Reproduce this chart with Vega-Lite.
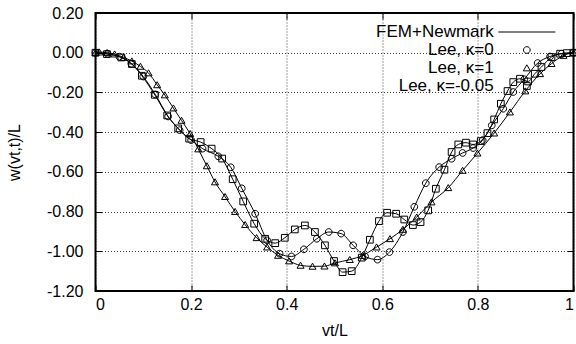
{
  "$schema": "https://vega.github.io/schema/vega-lite/v6.json",
  "width": 478,
  "height": 278,
  "autosize": {"type": "none"},
  "padding": {"left": 95.5, "top": 13, "right": 2.5, "bottom": 53},
  "background": "white",
  "datasets": {
    "lee": [
      {"s": "Lee, κ=0", "x": 0.0, "y": 0.0},
      {"s": "Lee, κ=0", "x": 0.025, "y": -0.005},
      {"s": "Lee, κ=0", "x": 0.05, "y": -0.02},
      {"s": "Lee, κ=0", "x": 0.075, "y": -0.055},
      {"s": "Lee, κ=0", "x": 0.1, "y": -0.12},
      {"s": "Lee, κ=0", "x": 0.125, "y": -0.21},
      {"s": "Lee, κ=0", "x": 0.152, "y": -0.321},
      {"s": "Lee, κ=0", "x": 0.176, "y": -0.39},
      {"s": "Lee, κ=0", "x": 0.2, "y": -0.44},
      {"s": "Lee, κ=0", "x": 0.224, "y": -0.483},
      {"s": "Lee, κ=0", "x": 0.257, "y": -0.522},
      {"s": "Lee, κ=0", "x": 0.283, "y": -0.577},
      {"s": "Lee, κ=0", "x": 0.306, "y": -0.683},
      {"s": "Lee, κ=0", "x": 0.334, "y": -0.811},
      {"s": "Lee, κ=0", "x": 0.359, "y": -0.945},
      {"s": "Lee, κ=0", "x": 0.385, "y": -1.012},
      {"s": "Lee, κ=0", "x": 0.41, "y": -1.026},
      {"s": "Lee, κ=0", "x": 0.436, "y": -0.99},
      {"s": "Lee, κ=0", "x": 0.463, "y": -0.937},
      {"s": "Lee, κ=0", "x": 0.488, "y": -0.903},
      {"s": "Lee, κ=0", "x": 0.514, "y": -0.911},
      {"s": "Lee, κ=0", "x": 0.539, "y": -0.97},
      {"s": "Lee, κ=0", "x": 0.564, "y": -1.026},
      {"s": "Lee, κ=0", "x": 0.59, "y": -1.042},
      {"s": "Lee, κ=0", "x": 0.615, "y": -1.004},
      {"s": "Lee, κ=0", "x": 0.643, "y": -0.903},
      {"s": "Lee, κ=0", "x": 0.667, "y": -0.776},
      {"s": "Lee, κ=0", "x": 0.691, "y": -0.657},
      {"s": "Lee, κ=0", "x": 0.719, "y": -0.576},
      {"s": "Lee, κ=0", "x": 0.745, "y": -0.534},
      {"s": "Lee, κ=0", "x": 0.768, "y": -0.505},
      {"s": "Lee, κ=0", "x": 0.79, "y": -0.48},
      {"s": "Lee, κ=0", "x": 0.81, "y": -0.44},
      {"s": "Lee, κ=0", "x": 0.829, "y": -0.366},
      {"s": "Lee, κ=0", "x": 0.853, "y": -0.282},
      {"s": "Lee, κ=0", "x": 0.874, "y": -0.198},
      {"s": "Lee, κ=0", "x": 0.897, "y": -0.134},
      {"s": "Lee, κ=0", "x": 0.925, "y": -0.052},
      {"s": "Lee, κ=0", "x": 0.951, "y": -0.019},
      {"s": "Lee, κ=0", "x": 0.975, "y": -0.005},
      {"s": "Lee, κ=0", "x": 1.0, "y": 0.0},

      {"s": "Lee, κ=1", "x": 0.0, "y": 0.0},
      {"s": "Lee, κ=1", "x": 0.008, "y": 0.003},
      {"s": "Lee, κ=1", "x": 0.024, "y": 0.0},
      {"s": "Lee, κ=1", "x": 0.04, "y": -0.007},
      {"s": "Lee, κ=1", "x": 0.059, "y": -0.024},
      {"s": "Lee, κ=1", "x": 0.076, "y": -0.042},
      {"s": "Lee, κ=1", "x": 0.094, "y": -0.069},
      {"s": "Lee, κ=1", "x": 0.111, "y": -0.102},
      {"s": "Lee, κ=1", "x": 0.129, "y": -0.162},
      {"s": "Lee, κ=1", "x": 0.145, "y": -0.213},
      {"s": "Lee, κ=1", "x": 0.163, "y": -0.279},
      {"s": "Lee, κ=1", "x": 0.18, "y": -0.341},
      {"s": "Lee, κ=1", "x": 0.198, "y": -0.408},
      {"s": "Lee, κ=1", "x": 0.215, "y": -0.485},
      {"s": "Lee, κ=1", "x": 0.233, "y": -0.57},
      {"s": "Lee, κ=1", "x": 0.25, "y": -0.651},
      {"s": "Lee, κ=1", "x": 0.271, "y": -0.725},
      {"s": "Lee, κ=1", "x": 0.292, "y": -0.8},
      {"s": "Lee, κ=1", "x": 0.313, "y": -0.866},
      {"s": "Lee, κ=1", "x": 0.337, "y": -0.932},
      {"s": "Lee, κ=1", "x": 0.359, "y": -0.979},
      {"s": "Lee, κ=1", "x": 0.382, "y": -1.021},
      {"s": "Lee, κ=1", "x": 0.405, "y": -1.049},
      {"s": "Lee, κ=1", "x": 0.429, "y": -1.071},
      {"s": "Lee, κ=1", "x": 0.454, "y": -1.076},
      {"s": "Lee, κ=1", "x": 0.479, "y": -1.075},
      {"s": "Lee, κ=1", "x": 0.501, "y": -1.059},
      {"s": "Lee, κ=1", "x": 0.532, "y": -1.042},
      {"s": "Lee, κ=1", "x": 0.559, "y": -1.021},
      {"s": "Lee, κ=1", "x": 0.588, "y": -0.979},
      {"s": "Lee, κ=1", "x": 0.616, "y": -0.937},
      {"s": "Lee, κ=1", "x": 0.643, "y": -0.89},
      {"s": "Lee, κ=1", "x": 0.672, "y": -0.828},
      {"s": "Lee, κ=1", "x": 0.703, "y": -0.752},
      {"s": "Lee, κ=1", "x": 0.738, "y": -0.68},
      {"s": "Lee, κ=1", "x": 0.768, "y": -0.593},
      {"s": "Lee, κ=1", "x": 0.799, "y": -0.506},
      {"s": "Lee, κ=1", "x": 0.834, "y": -0.405},
      {"s": "Lee, κ=1", "x": 0.867, "y": -0.299},
      {"s": "Lee, κ=1", "x": 0.899, "y": -0.193},
      {"s": "Lee, κ=1", "x": 0.93, "y": -0.106},
      {"s": "Lee, κ=1", "x": 0.954, "y": -0.055},
      {"s": "Lee, κ=1", "x": 0.979, "y": -0.014},
      {"s": "Lee, κ=1", "x": 1.0, "y": 0.0},

      {"s": "Lee, κ=-0.05", "x": 0.0, "y": 0.0},
      {"s": "Lee, κ=-0.05", "x": 0.024, "y": -0.007},
      {"s": "Lee, κ=-0.05", "x": 0.054, "y": -0.024},
      {"s": "Lee, κ=-0.05", "x": 0.076, "y": -0.057},
      {"s": "Lee, κ=-0.05", "x": 0.097, "y": -0.116},
      {"s": "Lee, κ=-0.05", "x": 0.124, "y": -0.212},
      {"s": "Lee, κ=-0.05", "x": 0.15, "y": -0.316},
      {"s": "Lee, κ=-0.05", "x": 0.173, "y": -0.381},
      {"s": "Lee, κ=-0.05", "x": 0.196, "y": -0.433},
      {"s": "Lee, κ=-0.05", "x": 0.22, "y": -0.45},
      {"s": "Lee, κ=-0.05", "x": 0.243, "y": -0.483},
      {"s": "Lee, κ=-0.05", "x": 0.265, "y": -0.533},
      {"s": "Lee, κ=-0.05", "x": 0.287, "y": -0.637},
      {"s": "Lee, κ=-0.05", "x": 0.309, "y": -0.749},
      {"s": "Lee, κ=-0.05", "x": 0.332, "y": -0.861},
      {"s": "Lee, κ=-0.05", "x": 0.355, "y": -0.937},
      {"s": "Lee, κ=-0.05", "x": 0.376, "y": -0.959},
      {"s": "Lee, κ=-0.05", "x": 0.396, "y": -0.932},
      {"s": "Lee, κ=-0.05", "x": 0.417, "y": -0.89},
      {"s": "Lee, κ=-0.05", "x": 0.438, "y": -0.87},
      {"s": "Lee, κ=-0.05", "x": 0.459, "y": -0.903},
      {"s": "Lee, κ=-0.05", "x": 0.48, "y": -0.97},
      {"s": "Lee, κ=-0.05", "x": 0.499, "y": -1.049},
      {"s": "Lee, κ=-0.05", "x": 0.517, "y": -1.105},
      {"s": "Lee, κ=-0.05", "x": 0.536, "y": -1.1},
      {"s": "Lee, κ=-0.05", "x": 0.557, "y": -1.032},
      {"s": "Lee, κ=-0.05", "x": 0.574, "y": -0.942},
      {"s": "Lee, κ=-0.05", "x": 0.593, "y": -0.848},
      {"s": "Lee, κ=-0.05", "x": 0.61, "y": -0.806},
      {"s": "Lee, κ=-0.05", "x": 0.629, "y": -0.811},
      {"s": "Lee, κ=-0.05", "x": 0.646, "y": -0.84},
      {"s": "Lee, κ=-0.05", "x": 0.664, "y": -0.868},
      {"s": "Lee, κ=-0.05", "x": 0.68, "y": -0.853},
      {"s": "Lee, κ=-0.05", "x": 0.696, "y": -0.794},
      {"s": "Lee, κ=-0.05", "x": 0.712, "y": -0.685},
      {"s": "Lee, κ=-0.05", "x": 0.73, "y": -0.589},
      {"s": "Lee, κ=-0.05", "x": 0.745, "y": -0.5},
      {"s": "Lee, κ=-0.05", "x": 0.759, "y": -0.462},
      {"s": "Lee, κ=-0.05", "x": 0.775, "y": -0.453},
      {"s": "Lee, κ=-0.05", "x": 0.79, "y": -0.462},
      {"s": "Lee, κ=-0.05", "x": 0.806, "y": -0.445},
      {"s": "Lee, κ=-0.05", "x": 0.82, "y": -0.405},
      {"s": "Lee, κ=-0.05", "x": 0.834, "y": -0.336},
      {"s": "Lee, κ=-0.05", "x": 0.848, "y": -0.257},
      {"s": "Lee, κ=-0.05", "x": 0.862, "y": -0.193},
      {"s": "Lee, κ=-0.05", "x": 0.874, "y": -0.148},
      {"s": "Lee, κ=-0.05", "x": 0.888, "y": -0.131},
      {"s": "Lee, κ=-0.05", "x": 0.905, "y": -0.145},
      {"s": "Lee, κ=-0.05", "x": 0.919, "y": -0.106},
      {"s": "Lee, κ=-0.05", "x": 0.933, "y": -0.072},
      {"s": "Lee, κ=-0.05", "x": 0.954, "y": -0.022},
      {"s": "Lee, κ=-0.05", "x": 0.972, "y": -0.005},
      {"s": "Lee, κ=-0.05", "x": 0.986, "y": -0.002},
      {"s": "Lee, κ=-0.05", "x": 1.0, "y": 0.0}
    ]
  },
  "data": {"name": "lee"},
  "layer": [
    {
      "mark": {"type": "line", "color": "black", "strokeWidth": 1, "interpolate": "monotone"},
      "encoding": {
        "x": {
          "field": "x", "type": "quantitative",
          "scale": {"domain": [0, 1]},
          "axis": {
            "orient": "bottom", "values": [0, 0.2, 0.4, 0.6, 0.8, 1], "format": "~g",
            "title": "vt/L", "grid": true, "tickSize": -6, "labelPadding": 11, "titlePadding": 10
          }
        },
        "y": {
          "field": "y", "type": "quantitative",
          "scale": {"domain": [-1.2, 0.2]},
          "axis": {
            "orient": "left", "values": [-1.2, -1, -0.8, -0.6, -0.4, -0.2, 0, 0.2],
            "labelExpr": "replace(format(datum.value, '.2f'), '−', '-')",
            "title": "w(vt,t)/L", "grid": true, "tickSize": -6, "labelPadding": 18.5, "titlePadding": 24
          }
        },
        "detail": {"field": "s"}
      }
    },
    {
      "mark": {"type": "point", "filled": false, "color": "black", "strokeWidth": 1, "size": 45, "opacity": 1},
      "encoding": {
        "x": {
          "field": "x", "type": "quantitative",
          "scale": {"domain": [0, 1]},
          "axis": {"orient": "top", "values": [0, 0.2, 0.4, 0.6, 0.8, 1], "labels": false, "title": null, "grid": false, "tickSize": -6}
        },
        "y": {
          "field": "y", "type": "quantitative",
          "scale": {"domain": [-1.2, 0.2]},
          "axis": {"orient": "right", "values": [-1.2, -1, -0.8, -0.6, -0.4, -0.2, 0, 0.2], "labels": false, "title": null, "grid": false, "tickSize": -6}
        },
        "shape": {
          "field": "s", "type": "nominal",
          "scale": {
            "domain": ["FEM+Newmark", "Lee, κ=0", "Lee, κ=1", "Lee, κ=-0.05"],
            "range": [
              "M-50,0M-8.5,0H8.5",
              "M-50,0M1,0A1,1,0,1,1,-1,0A1,1,0,1,1,1,0Z",
              "M-50,0M0,-0.95L1.05,0.85L-1.05,0.85Z",
              "M-50,0M-1,-1H1V1H-1Z"
            ]
          },
          "legend": {
            "title": null, "orient": "none", "legendX": 262.85, "legendY": 10.5,
            "labelAlign": "right", "labelOffset": -41.65, "symbolOffset": 160,
            "symbolSize": 45, "symbolStrokeColor": "black", "symbolFillColor": "transparent",
            "symbolStrokeWidth": 1, "rowPadding": 0, "labelLimit": 0, "labelFontSize": 17
          }
        }
      }
    }
  ],
  "resolve": {"axis": {"x": "independent", "y": "independent"}},
  "config": {
    "font": "Liberation Sans",
    "view": {"stroke": "black", "strokeWidth": 2},
    "axis": {
      "domain": false,
      "tickColor": "black", "tickWidth": 1,
      "labelFont": "Liberation Sans", "labelFontSize": 16, "labelColor": "black",
      "titleFont": "Liberation Sans", "titleFontSize": 16, "titleFontWeight": "normal", "titleColor": "black",
      "gridColor": "#000", "gridOpacity": 0.75, "gridDash": [1, 2], "gridWidth": 1
    },
    "legend": {
      "labelFont": "Liberation Sans", "labelFontSize": 17, "labelColor": "black"
    }
  }
}
